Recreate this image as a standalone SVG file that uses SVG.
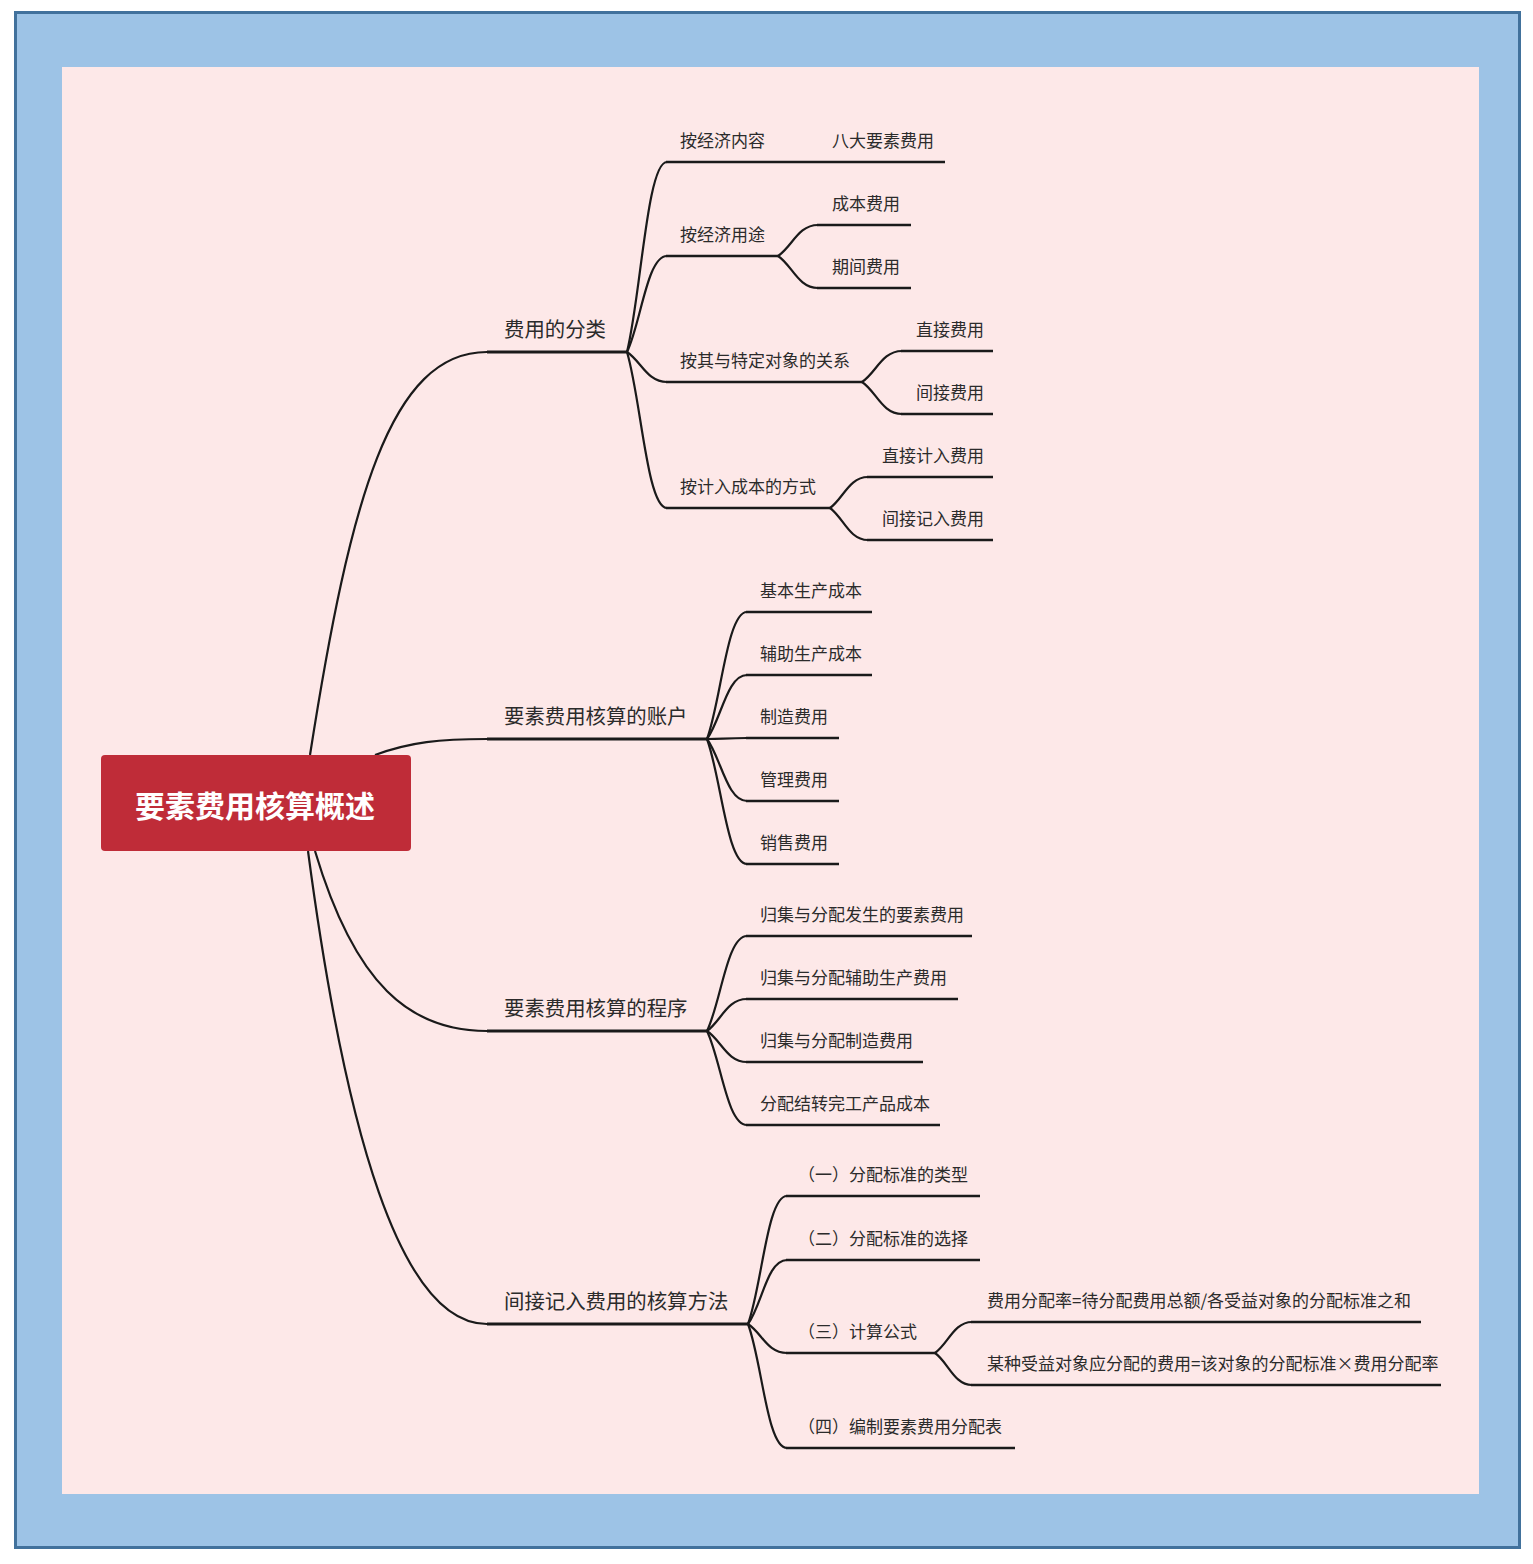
<svg xmlns="http://www.w3.org/2000/svg" width="1533" height="1564" viewBox="0 0 1533 1564">
<style>
  .t1 { font-family: "Noto Sans CJK SC", "Noto Sans", sans-serif; font-size: 20.4px; fill: #2b2b2b; }
  .t2 { font-family: "Noto Sans CJK SC", "Noto Sans", sans-serif; font-size: 17px; fill: #2b2b2b; }
  .root-t { font-family: "Noto Sans CJK SC", "Noto Sans", sans-serif; font-size: 30px; font-weight: bold; fill: #ffffff; }
  .u1 { stroke: #1a1a1a; stroke-width: 3; fill: none; }
  .u2 { stroke: #1a1a1a; stroke-width: 2.6; fill: none; }
  .c { stroke: #1a1a1a; stroke-width: 2.2; fill: none; }
</style>
<rect x="0" y="0" width="1533" height="1564" fill="#ffffff"/>
<rect x="15.5" y="12.5" width="1504" height="1535" fill="#9dc3e6" stroke="#41719c" stroke-width="3"/>
<rect x="62" y="67" width="1417" height="1427" fill="#fde8e8"/>

<g id="connectors">
  <!-- root to level 1 -->
  <path class="c" d="M310,755 C350,500 390,352 487,352"/>
  <path class="c" d="M375,755 C410,742 440,739 487,739"/>
  <path class="c" d="M315,851 C355,985 410,1031 487,1031"/>
  <path class="c" d="M308,851 C345,1130 400,1324 487,1324"/>
  <!-- 费用的分类 fork -->
  <path class="c" d="M627,352 C641,295 647,162 667,162"/>
  <path class="c" d="M627,352 C641,323 647,256 667,256"/>
  <path class="c" d="M627,352 C641,361 647,382 667,382"/>
  <path class="c" d="M627,352 C641,399 647,508 667,508"/>
  <path class="c" d="M778,256 C792,247 798,225 818,225"/>
  <path class="c" d="M778,256 C792,265 798,288 818,288"/>
  <path class="c" d="M862,382 C876,373 882,351 902,351"/>
  <path class="c" d="M862,382 C876,391 882,414 902,414"/>
  <path class="c" d="M830,508 C843,499 849,477 868,477"/>
  <path class="c" d="M830,508 C843,517 849,540 868,540"/>
  <!-- 账户 fork -->
  <path class="c" d="M707,739 C721,701 727,612 747,612"/>
  <path class="c" d="M707,739 C721,720 727,675 747,675"/>
  <path class="c" d="M707,739 C721,739 727,738 747,738"/>
  <path class="c" d="M707,739 C721,758 727,801 747,801"/>
  <path class="c" d="M707,739 C721,777 727,864 747,864"/>
  <!-- 程序 fork -->
  <path class="c" d="M707,1031 C721,1002 727,936 747,936"/>
  <path class="c" d="M707,1031 C721,1021 727,999 747,999"/>
  <path class="c" d="M707,1031 C721,1040 727,1062 747,1062"/>
  <path class="c" d="M707,1031 C721,1060 727,1125 747,1125"/>
  <!-- 方法 fork -->
  <path class="c" d="M748,1324 C762,1286 767,1196 787,1196"/>
  <path class="c" d="M748,1324 C762,1305 767,1260 787,1260"/>
  <path class="c" d="M748,1324 C762,1333 767,1353 787,1353"/>
  <path class="c" d="M748,1324 C762,1361 767,1448 787,1448"/>
  <path class="c" d="M935,1353 C948,1344 954,1322 972,1322"/>
  <path class="c" d="M935,1353 C948,1362 954,1385 972,1385"/>
</g>

<g id="root">
  <rect x="101" y="755" width="310" height="96" rx="4" fill="#bf2c38"/>
  <text class="root-t" x="255" y="817" text-anchor="middle">要素费用核算概述</text>
</g>

<g id="n-a">
  <line class="u1" x1="487" y1="352" x2="627" y2="352"/>
  <text class="t1" x="504" y="337">费用的分类</text>
</g>
<g id="n-a1">
  <line class="u2" x1="666" y1="162" x2="818" y2="162"/>
  <text class="t2" x="680" y="147">按经济内容</text>
</g>
<g id="n-a1-1">
  <line class="u2" x1="818" y1="162" x2="945" y2="162"/>
  <text class="t2" x="832" y="147">八大要素费用</text>
</g>
<g id="n-a2">
  <line class="u2" x1="666" y1="256" x2="778" y2="256"/>
  <text class="t2" x="680" y="241">按经济用途</text>
</g>
<g id="n-a2-1">
  <line class="u2" x1="817" y1="225" x2="911" y2="225"/>
  <text class="t2" x="832" y="210">成本费用</text>
</g>
<g id="n-a2-2">
  <line class="u2" x1="817" y1="288" x2="911" y2="288"/>
  <text class="t2" x="832" y="273">期间费用</text>
</g>
<g id="n-a3">
  <line class="u2" x1="666" y1="382" x2="862" y2="382"/>
  <text class="t2" x="680" y="367">按其与特定对象的关系</text>
</g>
<g id="n-a3-1">
  <line class="u2" x1="901" y1="351" x2="993" y2="351"/>
  <text class="t2" x="916" y="336">直接费用</text>
</g>
<g id="n-a3-2">
  <line class="u2" x1="901" y1="414" x2="993" y2="414"/>
  <text class="t2" x="916" y="399">间接费用</text>
</g>
<g id="n-a4">
  <line class="u2" x1="666" y1="508" x2="830" y2="508"/>
  <text class="t2" x="680" y="493">按计入成本的方式</text>
</g>
<g id="n-a4-1">
  <line class="u2" x1="867" y1="477" x2="993" y2="477"/>
  <text class="t2" x="882" y="462">直接计入费用</text>
</g>
<g id="n-a4-2">
  <line class="u2" x1="867" y1="540" x2="993" y2="540"/>
  <text class="t2" x="882" y="525">间接记入费用</text>
</g>

<g id="n-b">
  <line class="u1" x1="487" y1="739" x2="707" y2="739"/>
  <text class="t1" x="504" y="724">要素费用核算的账户</text>
</g>
<g id="n-b1">
  <line class="u2" x1="746" y1="612" x2="872" y2="612"/>
  <text class="t2" x="760" y="597">基本生产成本</text>
</g>
<g id="n-b2">
  <line class="u2" x1="746" y1="675" x2="872" y2="675"/>
  <text class="t2" x="760" y="660">辅助生产成本</text>
</g>
<g id="n-b3">
  <line class="u2" x1="746" y1="738" x2="839" y2="738"/>
  <text class="t2" x="760" y="723">制造费用</text>
</g>
<g id="n-b4">
  <line class="u2" x1="746" y1="801" x2="839" y2="801"/>
  <text class="t2" x="760" y="786">管理费用</text>
</g>
<g id="n-b5">
  <line class="u2" x1="746" y1="864" x2="839" y2="864"/>
  <text class="t2" x="760" y="849">销售费用</text>
</g>

<g id="n-c">
  <line class="u1" x1="487" y1="1031" x2="707" y2="1031"/>
  <text class="t1" x="504" y="1016">要素费用核算的程序</text>
</g>
<g id="n-c1">
  <line class="u2" x1="746" y1="936" x2="972" y2="936"/>
  <text class="t2" x="760" y="921">归集与分配发生的要素费用</text>
</g>
<g id="n-c2">
  <line class="u2" x1="746" y1="999" x2="958" y2="999"/>
  <text class="t2" x="760" y="984">归集与分配辅助生产费用</text>
</g>
<g id="n-c3">
  <line class="u2" x1="746" y1="1062" x2="923" y2="1062"/>
  <text class="t2" x="760" y="1047">归集与分配制造费用</text>
</g>
<g id="n-c4">
  <line class="u2" x1="746" y1="1125" x2="940" y2="1125"/>
  <text class="t2" x="760" y="1110">分配结转完工产品成本</text>
</g>

<g id="n-d">
  <line class="u1" x1="487" y1="1324" x2="748" y2="1324"/>
  <text class="t1" x="504" y="1309">间接记入费用的核算方法</text>
</g>
<g id="n-d1">
  <line class="u2" x1="786" y1="1196" x2="980" y2="1196"/>
  <text class="t2" x="798" y="1181">（一）分配标准的类型</text>
</g>
<g id="n-d2">
  <line class="u2" x1="786" y1="1260" x2="980" y2="1260"/>
  <text class="t2" x="798" y="1245">（二）分配标准的选择</text>
</g>
<g id="n-d3">
  <line class="u2" x1="786" y1="1353" x2="935" y2="1353"/>
  <text class="t2" x="798" y="1338">（三）计算公式</text>
</g>
<g id="n-d3-1">
  <line class="u2" x1="971" y1="1322" x2="1421" y2="1322"/>
  <text class="t2" x="987" y="1307">费用分配率=待分配费用总额/各受益对象的分配标准之和</text>
</g>
<g id="n-d3-2">
  <line class="u2" x1="971" y1="1385" x2="1441" y2="1385"/>
  <text class="t2" x="987" y="1370">某种受益对象应分配的费用=该对象的分配标准×费用分配率</text>
</g>
<g id="n-d4">
  <line class="u2" x1="786" y1="1448" x2="1015" y2="1448"/>
  <text class="t2" x="798" y="1433">（四）编制要素费用分配表</text>
</g>
</svg>
